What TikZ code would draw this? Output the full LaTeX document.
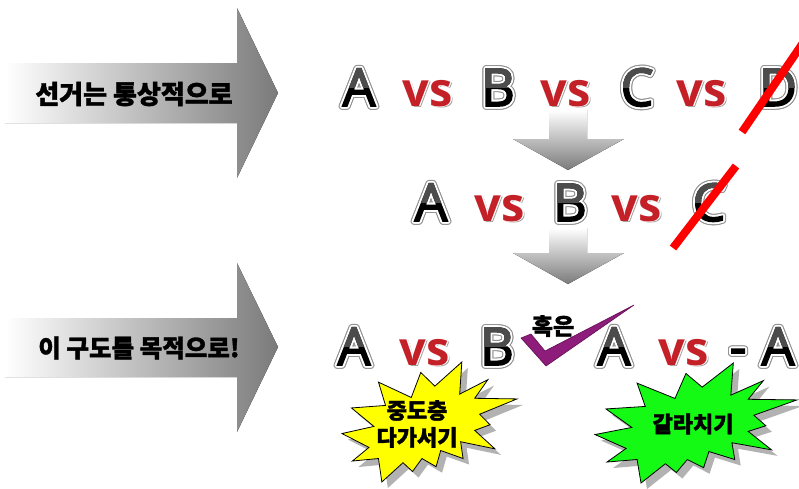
\documentclass[tikz,border=0pt]{standalone}
\usepackage{fontspec}
\usepackage{contour}
\newfontfamily\kr{Noto Sans CJK KR}[BoldFeatures={FakeBold=1.4}]
\newfontfamily\letfont{Open Sans}[UprightFeatures={FakeBold=3}]
\usetikzlibrary{calc}
\definecolor{vsred}{RGB}{196,32,40}
\definecolor{chkpurple}{RGB}{142,28,122}
\definecolor{chkdark}{RGB}{100,15,85}
\definecolor{burstyellow}{RGB}{255,255,0}
\definecolor{burstgreen}{RGB}{20,250,20}
\tikzset{
  ltr/.style={font=\letfont\fontsize{52}{52}\selectfont, inner sep=0pt, anchor=base, text=black},
  vsstyle/.style={font=\letfont\bfseries\fontsize{47}{47}\selectfont, inner sep=0pt, anchor=base, text=vsred},
  krbig/.style={font=\kr\bfseries\fontsize{26}{26}\selectfont, inner sep=0pt, text=black},
  krmid/.style={font=\kr\bfseries\fontsize{22}{27}\selectfont, inner sep=0pt, text=black, align=center},
  bigarrow/.style={left color=white, right color=black!52, draw=none},
  downarrow/.style={top color=white, middle color=black!36, bottom color=black!52, draw=none},
  strike/.style={red, line width=8pt},
  burstshadow/.style={fill=black!30, draw=none},
}
\newcommand\BigL[4]{%
  \node[ltr] (#1o) at (#2,#3) {\contourlength{3pt}\contour{black!42}{#4}};
  \node[ltr] (#1) at (#2,#3) {\contourlength{1.8pt}\contour{white}{#4}};
  \begin{scope}
    \clip (#2-50,#3-60) rectangle (#2+50,#3-19);
    \node[ltr,text=black!70] (#1t) at (#2,#3) {#4};
  \end{scope}}
\newcommand\VS[3]{%
  \node[vsstyle,text=black!35] (#1s) at (#2+1.5,#3+1.5) {vs};
  \node[vsstyle] (#1) at (#2,#3) {\contourlength{0.8pt}\contour{white}{vs}};}
\newcommand\sealpath{(11.462,4.342) -- (14.790,0) -- (14.525,5.777) -- (18.007,3.172) -- (16.380,6.532) -- (21.6,6.645) -- (16.985,9.402) -- (18.270,11.290) -- (16.380,12.310) -- (18.877,15.632) -- (14.640,14.350) -- (14.942,17.370) -- (12.180,15.935) -- (11.612,18.842) -- (9.872,17.370) -- (8.700,19.712) -- (7.527,18.125) -- (4.917,21.6) -- (4.502,17.370) -- (1.285,17.825) -- (3.330,15.370) -- (0,12.877) -- (3.935,11.592) -- (1.172,8.270) -- (5.372,7.817) -- (4.502,3.625) -- (8.550,6.382) -- (9.722,1.887) -- cycle}
\begin{document}
\begin{tikzpicture}[x=1pt,y=-1pt]
\useasboundingbox (0,0) rectangle (799,488);
\fill[white] (0,0) rectangle (799,488);

% left big arrows
\fill[bigarrow] (5,63) -- (237,63) -- (237,8) -- (278,93) -- (237,178) -- (237,123) -- (5,123) -- cycle;
\node[krbig] (t1) at (134,94) {선거는 통상적으로};
\fill[bigarrow] (5,318) -- (237,318) -- (237,263) -- (278,347) -- (237,432) -- (237,377) -- (5,377) -- cycle;
\node[krbig,font=\kr\bfseries\fontsize{24.5}{24.5}\selectfont] (t2) at (139,348) {이 구도를 목적으로!};

% down arrows
\fill[downarrow] (549,110) -- (587,110) -- (587,139) -- (624,139) -- (568,170) -- (513,139) -- (549,139) -- cycle;
\fill[downarrow] (549,228) -- (587,228) -- (587,253) -- (624,253) -- (568,284) -- (513,253) -- (549,253) -- cycle;

% row 1
\BigL{a1}{359}{106}{A}
\VS{v1}{428}{106}
\BigL{b1}{498}{106}{B}
\VS{v2}{566}{106}
\BigL{c1}{637}{106}{C}
\VS{v3}{702}{106}
\BigL{d1}{778}{106}{D}

% row 2
\BigL{a2}{431}{221}{A}
\VS{v4}{500}{221}
\BigL{b2}{570}{221}{B}
\VS{v5}{637}{221}
\BigL{c2}{709}{221}{C}

% strikes
\coordinate (s1a) at (742,132);
\coordinate (s1b) at (807,37);
\draw[strike] (s1a) -- (s1b);
\coordinate (s2a) at (673,248);
\coordinate (s2b) at (736,166);
\draw[strike] (s2a) -- (s2b);

% row 3
\BigL{a3}{354}{365}{A}
\VS{v6}{425}{365}
\BigL{b3}{497}{365}{B}
\BigL{a4}{614}{365}{A}
\VS{v7}{684}{365}
\BigL{m4}{738}{365}{-}
\BigL{a5}{778}{365}{A}

% check mark and label
\filldraw[fill=chkpurple, draw=chkdark, line width=0.6pt, line join=round]
  (521,338) -- (531,334) -- (545,351) -- (634,305) -- (546,366) -- cycle;
\node[krbig,font=\kr\bfseries\fontsize{23}{23}\selectfont] (hok) at (553,326) {혹은};

% yellow burst
\begin{scope}[shift={(348,368)}, xscale=175/21.6, yscale=120/21.6]
  \fill[burstshadow] \sealpath;
\end{scope}
\begin{scope}[shift={(342,362)}, xscale=175/21.6, yscale=120/21.6]
  \filldraw[fill=burstyellow, draw=black, line width=0.8pt, line join=miter] \sealpath;
\end{scope}
\node[krmid] (y1) at (417,424) {중도층\\다가서기};

% green burst
\begin{scope}[shift={(601,369)}, xscale=202/21.6, yscale=120/21.6]
  \fill[burstshadow] \sealpath;
\end{scope}
\begin{scope}[shift={(595,363)}, xscale=202/21.6, yscale=120/21.6]
  \filldraw[fill=burstgreen, draw=black, line width=0.8pt, line join=miter] \sealpath;
\end{scope}
\node[krmid] (g1) at (693,424) {갈라치기};
\end{tikzpicture}
\end{document}
